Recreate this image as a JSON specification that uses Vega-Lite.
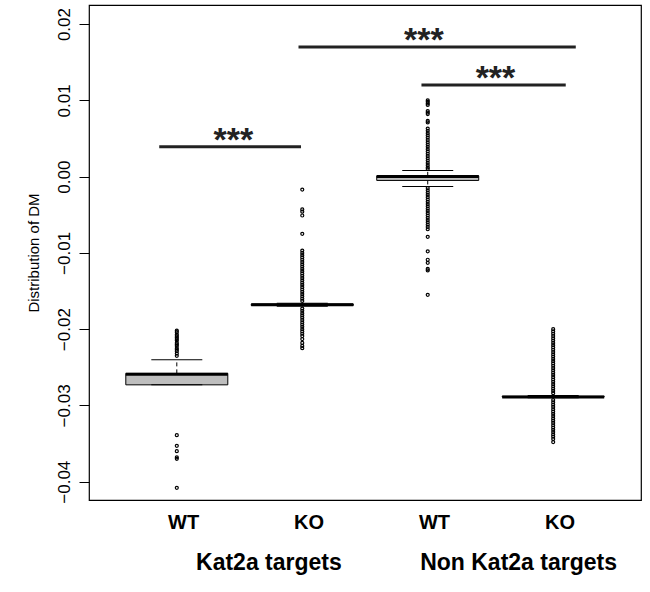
{
  "$schema": "https://vega.github.io/schema/vega-lite/v6.json",
  "width": 552,
  "height": 495,
  "autosize": {"type": "none"},
  "padding": {"left": 89, "top": 5, "right": 9, "bottom": 92},
  "config": {
    "font": "Liberation Sans",
    "view": {"stroke": "#000000", "strokeWidth": 1.2}
  },
  "datasets": {
    "boxes": [
      {"pos": 1, "group": "Kat2a targets", "genotype": "WT", "lower": -0.0273, "q1": -0.0273, "median": -0.0259, "q3": -0.0258, "upper": -0.0240},
      {"pos": 2, "group": "Kat2a targets", "genotype": "KO", "lower": -0.0170, "q1": -0.0169, "median": -0.0168, "q3": -0.0167, "upper": -0.0166},
      {"pos": 3, "group": "Non Kat2a targets", "genotype": "WT", "lower": -0.0013, "q1": -0.0005, "median": 0.0000, "q3": 0.0001, "upper": 0.0008},
      {"pos": 4, "group": "Non Kat2a targets", "genotype": "KO", "lower": -0.0290, "q1": -0.0289, "median": -0.0289, "q3": -0.0288, "upper": -0.0287}
    ],
    "outliers": [
      {"pos": 1, "v": -0.0202}, {"pos": 1, "v": -0.0204}, {"pos": 1, "v": -0.0207}, {"pos": 1, "v": -0.0209},
      {"pos": 1, "v": -0.0211}, {"pos": 1, "v": -0.0213}, {"pos": 1, "v": -0.0215}, {"pos": 1, "v": -0.0218},
      {"pos": 1, "v": -0.0220}, {"pos": 1, "v": -0.0222}, {"pos": 1, "v": -0.0225}, {"pos": 1, "v": -0.0227},
      {"pos": 1, "v": -0.0229}, {"pos": 1, "v": -0.0232}, {"pos": 1, "v": -0.0235},
      {"pos": 1, "v": -0.0339}, {"pos": 1, "v": -0.0353}, {"pos": 1, "v": -0.0360}, {"pos": 1, "v": -0.0368},
      {"pos": 1, "v": -0.0370}, {"pos": 1, "v": -0.0408},
      {"pos": 2, "v": -0.0017}, {"pos": 2, "v": -0.0043}, {"pos": 2, "v": -0.0046}, {"pos": 2, "v": -0.0051},
      {"pos": 2, "v": -0.0075}, {"pos": 2, "v": -0.0097}, {"pos": 2, "v": -0.0100}, {"pos": 2, "v": -0.0103},
      {"pos": 2, "v": -0.0106}, {"pos": 2, "v": -0.0109}, {"pos": 2, "v": -0.0112}, {"pos": 2, "v": -0.0115},
      {"pos": 2, "v": -0.0118}, {"pos": 2, "v": -0.0121}, {"pos": 2, "v": -0.0124}, {"pos": 2, "v": -0.0127},
      {"pos": 2, "v": -0.0130}, {"pos": 2, "v": -0.0133}, {"pos": 2, "v": -0.0136}, {"pos": 2, "v": -0.0139},
      {"pos": 2, "v": -0.0142}, {"pos": 2, "v": -0.0145}, {"pos": 2, "v": -0.0148}, {"pos": 2, "v": -0.0151},
      {"pos": 2, "v": -0.0154}, {"pos": 2, "v": -0.0157}, {"pos": 2, "v": -0.0160}, {"pos": 2, "v": -0.0163},
      {"pos": 2, "v": -0.0173}, {"pos": 2, "v": -0.0176}, {"pos": 2, "v": -0.0179}, {"pos": 2, "v": -0.0182},
      {"pos": 2, "v": -0.0185}, {"pos": 2, "v": -0.0188}, {"pos": 2, "v": -0.0191}, {"pos": 2, "v": -0.0194},
      {"pos": 2, "v": -0.0197}, {"pos": 2, "v": -0.0200}, {"pos": 2, "v": -0.0203}, {"pos": 2, "v": -0.0206},
      {"pos": 2, "v": -0.0209}, {"pos": 2, "v": -0.0213}, {"pos": 2, "v": -0.0218}, {"pos": 2, "v": -0.0222},
      {"pos": 2, "v": -0.0225},
      {"pos": 3, "v": 0.0100}, {"pos": 3, "v": 0.0098}, {"pos": 3, "v": 0.0096}, {"pos": 3, "v": 0.0094},
      {"pos": 3, "v": 0.0086}, {"pos": 3, "v": 0.0084}, {"pos": 3, "v": 0.0082}, {"pos": 3, "v": 0.0073},
      {"pos": 3, "v": 0.0071}, {"pos": 3, "v": 0.0063}, {"pos": 3, "v": 0.0060}, {"pos": 3, "v": 0.0057},
      {"pos": 3, "v": 0.0054}, {"pos": 3, "v": 0.0051}, {"pos": 3, "v": 0.0048}, {"pos": 3, "v": 0.0045},
      {"pos": 3, "v": 0.0042}, {"pos": 3, "v": 0.0039}, {"pos": 3, "v": 0.0036}, {"pos": 3, "v": 0.0033},
      {"pos": 3, "v": 0.0030}, {"pos": 3, "v": 0.0027}, {"pos": 3, "v": 0.0024}, {"pos": 3, "v": 0.0021},
      {"pos": 3, "v": 0.0018}, {"pos": 3, "v": 0.0015}, {"pos": 3, "v": 0.0012}, {"pos": 3, "v": 0.0010},
      {"pos": 3, "v": -0.0015}, {"pos": 3, "v": -0.0018}, {"pos": 3, "v": -0.0021}, {"pos": 3, "v": -0.0024},
      {"pos": 3, "v": -0.0027}, {"pos": 3, "v": -0.0030}, {"pos": 3, "v": -0.0033}, {"pos": 3, "v": -0.0036},
      {"pos": 3, "v": -0.0039}, {"pos": 3, "v": -0.0042}, {"pos": 3, "v": -0.0045}, {"pos": 3, "v": -0.0048},
      {"pos": 3, "v": -0.0051}, {"pos": 3, "v": -0.0054}, {"pos": 3, "v": -0.0057}, {"pos": 3, "v": -0.0060},
      {"pos": 3, "v": -0.0063}, {"pos": 3, "v": -0.0066}, {"pos": 3, "v": -0.0069}, {"pos": 3, "v": -0.0079},
      {"pos": 3, "v": -0.0098}, {"pos": 3, "v": -0.0109}, {"pos": 3, "v": -0.0113}, {"pos": 3, "v": -0.0121},
      {"pos": 3, "v": -0.0123}, {"pos": 3, "v": -0.0155},
      {"pos": 4, "v": -0.0200}, {"pos": 4, "v": -0.0203}, {"pos": 4, "v": -0.0206}, {"pos": 4, "v": -0.0209},
      {"pos": 4, "v": -0.0212}, {"pos": 4, "v": -0.0215}, {"pos": 4, "v": -0.0218}, {"pos": 4, "v": -0.0221},
      {"pos": 4, "v": -0.0224}, {"pos": 4, "v": -0.0227}, {"pos": 4, "v": -0.0230}, {"pos": 4, "v": -0.0233},
      {"pos": 4, "v": -0.0236}, {"pos": 4, "v": -0.0239}, {"pos": 4, "v": -0.0242}, {"pos": 4, "v": -0.0245},
      {"pos": 4, "v": -0.0248}, {"pos": 4, "v": -0.0251}, {"pos": 4, "v": -0.0254}, {"pos": 4, "v": -0.0257},
      {"pos": 4, "v": -0.0260}, {"pos": 4, "v": -0.0263}, {"pos": 4, "v": -0.0266}, {"pos": 4, "v": -0.0269},
      {"pos": 4, "v": -0.0272}, {"pos": 4, "v": -0.0275}, {"pos": 4, "v": -0.0278}, {"pos": 4, "v": -0.0281},
      {"pos": 4, "v": -0.0284},
      {"pos": 4, "v": -0.0293}, {"pos": 4, "v": -0.0296}, {"pos": 4, "v": -0.0299}, {"pos": 4, "v": -0.0302},
      {"pos": 4, "v": -0.0305}, {"pos": 4, "v": -0.0308}, {"pos": 4, "v": -0.0311}, {"pos": 4, "v": -0.0314},
      {"pos": 4, "v": -0.0317}, {"pos": 4, "v": -0.0320}, {"pos": 4, "v": -0.0323}, {"pos": 4, "v": -0.0326},
      {"pos": 4, "v": -0.0329}, {"pos": 4, "v": -0.0332}, {"pos": 4, "v": -0.0335}, {"pos": 4, "v": -0.0338},
      {"pos": 4, "v": -0.0341}, {"pos": 4, "v": -0.0344}, {"pos": 4, "v": -0.0348}
    ],
    "sig": [
      {"from": 0.86, "to": 1.99, "y": 0.0039, "mid": 1.45, "stars": "***"},
      {"from": 1.97, "to": 4.18, "y": 0.0170, "mid": 2.97, "stars": "***"},
      {"from": 2.95, "to": 4.10, "y": 0.0120, "mid": 3.54, "stars": "***"}
    ]
  },
  "layer": [
    {
      "data": {"name": "boxes"},
      "mark": {"type": "rule", "strokeDash": [4, 3], "color": "#000000", "strokeWidth": 1},
      "encoding": {
        "x": {"field": "pos", "type": "quantitative", "title": null, "scale": {"domain": [0.34, 4.66], "nice": false, "zero": false},
          "axis": {"values": [1.05, 1.73, 2.05, 3.05, 3.72, 4.05],
            "labelExpr": "datum.value == 1.73 ? ['', 'Kat2a targets'] : datum.value == 3.72 ? ['', 'Non Kat2a targets'] : (datum.value < 1.5 || (datum.value > 2.5 && datum.value < 3.5)) ? 'WT' : 'KO'",
            "labelOverlap": false, "labelBound": false, "labelLimit": 0, "labelLineHeight": 39, "labelBaseline": "top",
            "labelFontSize": {"condition": {"test": "datum.value == 1.73 || datum.value == 3.72", "value": 23}, "value": 20},
            "title": null, "ticks": false, "domain": false, "grid": false, "labelFontWeight": "bold", "labelColor": "#000000", "labelPadding": 12}},
        "y": {"field": "q3", "type": "quantitative", "title": "Distribution of DM", "scale": {"domain": [-0.0424, 0.0225], "nice": false, "zero": false},
          "axis": {"values": [-0.04, -0.03, -0.02, -0.01, 0, 0.01, 0.02], "format": ".2f", "title": "Distribution of DM",
            "grid": false, "domain": false, "tickSize": 10, "tickColor": "#000000", "labelColor": "#000000",
            "labelFontSize": 17, "labelAngle": 270, "labelAlign": "center", "labelBaseline": "bottom", "labelPadding": 6,
            "titleFontSize": 15, "titleFontWeight": "normal", "titleColor": "#000000", "titlePadding": 14}},
        "y2": {"field": "upper"}
      }
    },
    {
      "data": {"name": "boxes"},
      "mark": {"type": "rule", "strokeDash": [4, 3], "color": "#000000", "strokeWidth": 1},
      "encoding": {
        "x": {"field": "pos", "type": "quantitative", "title": null},
        "y": {"field": "q1", "type": "quantitative", "title": "Distribution of DM"},
        "y2": {"field": "lower"}
      }
    },
    {
      "data": {"name": "boxes"},
      "mark": {"type": "bar", "size": 102, "fill": "#bebebe", "stroke": "#000000", "strokeWidth": 1},
      "encoding": {
        "x": {"field": "pos", "type": "quantitative", "title": null},
        "y": {"field": "q1", "type": "quantitative", "title": "Distribution of DM"},
        "y2": {"field": "q3"}
      }
    },
    {
      "data": {"name": "boxes"},
      "mark": {"type": "tick", "orient": "horizontal", "size": 51, "thickness": 1, "color": "#000000", "opacity": 1},
      "encoding": {
        "x": {"field": "pos", "type": "quantitative", "title": null},
        "y": {"field": "upper", "type": "quantitative", "title": "Distribution of DM"}
      }
    },
    {
      "data": {"name": "boxes"},
      "mark": {"type": "tick", "orient": "horizontal", "size": 51, "thickness": 1, "color": "#000000", "opacity": 1},
      "encoding": {
        "x": {"field": "pos", "type": "quantitative", "title": null},
        "y": {"field": "lower", "type": "quantitative", "title": "Distribution of DM"}
      }
    },
    {
      "data": {"name": "boxes"},
      "mark": {"type": "tick", "orient": "horizontal", "size": 102, "thickness": 3, "color": "#000000", "opacity": 1},
      "encoding": {
        "x": {"field": "pos", "type": "quantitative", "title": null},
        "y": {"field": "median", "type": "quantitative", "title": "Distribution of DM"}
      }
    },
    {
      "data": {"name": "outliers"},
      "mark": {"type": "point", "shape": "circle", "filled": false, "size": 9, "strokeWidth": 1.2, "color": "#000000", "opacity": 1},
      "encoding": {
        "x": {"field": "pos", "type": "quantitative", "title": null},
        "y": {"field": "v", "type": "quantitative", "title": "Distribution of DM"}
      }
    },
    {
      "data": {"name": "sig"},
      "mark": {"type": "rule", "color": "#222222", "strokeWidth": 3},
      "encoding": {
        "x": {"field": "from", "type": "quantitative", "title": null},
        "x2": {"field": "to"},
        "y": {"field": "y", "type": "quantitative", "title": "Distribution of DM"}
      }
    },
    {
      "data": {"name": "sig"},
      "mark": {"type": "text", "fontSize": 34, "fontWeight": "bold", "baseline": "alphabetic", "align": "center", "dy": 4, "color": "#222222"},
      "encoding": {
        "x": {"field": "mid", "type": "quantitative", "title": null},
        "y": {"field": "y", "type": "quantitative", "title": "Distribution of DM"},
        "text": {"field": "stars"}
      }
    }
  ]
}
